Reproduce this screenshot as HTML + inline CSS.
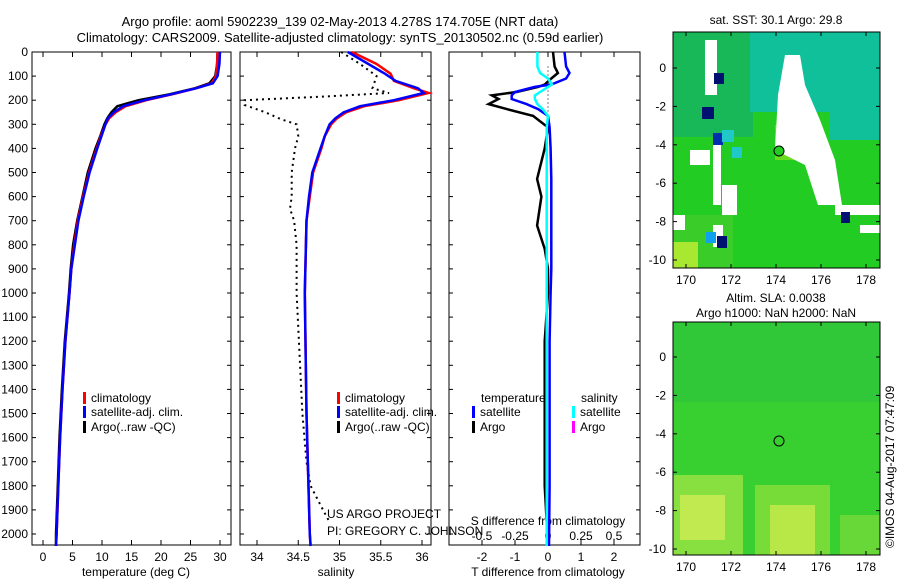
<!DOCTYPE html>
<html><head><meta charset="utf-8"><style>
body{margin:0;background:#fff;}
svg text{font-family:"Liberation Sans",sans-serif;font-size:12px;fill:#000;}
</style></head><body>
<svg id="c" width="900" height="580" xmlns="http://www.w3.org/2000/svg">
<text x="340" y="26" text-anchor="middle" style="font-size:13px">Argo profile: aoml 5902239_139 02-May-2013 4.278S 174.705E (NRT data)</text>
<text x="340" y="42" text-anchor="middle" style="font-size:13px">Climatology: CARS2009. Satellite-adjusted climatology: synTS_20130502.nc (0.59d earlier)</text>

<g>
<rect x="673" y="32" width="207" height="236" fill="#22cc22"/>
<rect x="673" y="32" width="80" height="105" fill="#18b858"/>
<rect x="750" y="32" width="130" height="80" fill="#10c09a"/>
<rect x="830" y="100" width="50" height="40" fill="#10c09a"/>
<rect x="673" y="215" width="60" height="53" fill="#3acc28"/>
<rect x="673" y="242" width="25" height="26" fill="#a8e830"/>
<rect x="775" y="125" width="40" height="35" fill="#68dc20"/>
<polygon points="785,55 800,55 805,85 820,120 835,160 842,205 818,205 805,165 775,150 778,95" fill="#fff"/>
<rect x="705" y="40" width="12" height="55" fill="#fff"/>
<rect x="690" y="150" width="20" height="15" fill="#fff"/>
<rect x="713" y="140" width="8" height="65" fill="#fff"/>
<rect x="722" y="185" width="15" height="30" fill="#fff"/>
<rect x="835" y="205" width="45" height="10" fill="#fff"/>
<rect x="860" y="225" width="20" height="8" fill="#fff"/>
<rect x="673" y="215" width="12" height="15" fill="#fff"/>
<rect x="713" y="225" width="10" height="22" fill="#fff"/>
<rect x="714" y="73" width="10" height="11" fill="#001070"/>
<rect x="702" y="107" width="12" height="12" fill="#001070"/>
<rect x="713" y="133" width="10" height="12" fill="#0030b0"/>
<rect x="722" y="130" width="12" height="12" fill="#20c8c8"/>
<rect x="732" y="147" width="10" height="11" fill="#20c8c8"/>
<rect x="706" y="232" width="10" height="11" fill="#10a0f0"/>
<rect x="717" y="236" width="10" height="12" fill="#001070"/>
<rect x="841" y="212" width="9" height="11" fill="#001070"/>
<circle cx="779" cy="151" r="5" fill="#22cc22" stroke="#000"/>
<rect x="673" y="32" width="207" height="236" fill="none" stroke="#000"/>
</g>
<text x="776" y="24" text-anchor="middle">sat. SST: 30.1  Argo: 29.8</text>

<g>
<rect x="673" y="322" width="207" height="233" fill="#38d030"/>
<rect x="673" y="322" width="207" height="80" fill="#30c838"/>
<rect x="673" y="475" width="70" height="80" fill="#88e040"/>
<rect x="680" y="495" width="45" height="45" fill="#c0ea50"/>
<rect x="755" y="485" width="75" height="70" fill="#78dc38"/>
<rect x="770" y="505" width="45" height="50" fill="#b8e848"/>
<rect x="840" y="515" width="40" height="40" fill="#68d838"/>
<circle cx="779" cy="441" r="5" fill="none" stroke="#000"/>
<rect x="673" y="322" width="207" height="233" fill="none" stroke="#000"/>
</g>
<text x="776" y="302" text-anchor="middle">Altim. SLA: 0.0038</text>
<text x="776" y="317" text-anchor="middle">Argo h1000: NaN h2000: NaN</text>
<text transform="translate(894,548) rotate(-90)">©IMOS 04-Aug-2017 07:47:09</text>

<text x="327" y="518">US ARGO PROJECT</text>
<text x="327" y="535">PI: GREGORY C. JOHNSON</text>
<text x="548" y="525" text-anchor="middle">S difference from climatology</text>
<text x="136" y="576" text-anchor="middle">temperature (deg C)</text>
<text x="336" y="576" text-anchor="middle">salinity</text>
<text x="548" y="576" text-anchor="middle">T difference from climatology</text>
</svg>
<script>
const depthTicks=[0,100,200,300,400,500,600,700,800,900,1000,1100,1200,1300,1400,1500,1600,1700,1800,1900,2000];
const tempTicks=[0,5,10,15,20,25,30];
const salTicks=[34,34.5,35,35.5,36];
const tdTicks=[-2,-1,0,1,2];
const sdTicks=[-0.5,-0.25,0,0.25,0.5];
const tDepth=[0,50,100,130,150,175,200,225,250,275,300,350,400,500,600,700,800,900,1000,1200,1400,1600,1800,2000,2050];
const tClim=[29.6,29.5,29.3,28.6,26,22,17.5,14,12.3,11.2,10.6,9.8,9.1,7.8,6.8,5.9,5.3,4.8,4.5,3.8,3.3,2.9,2.6,2.3,2.2];
const tSat=[30.0,29.9,29.6,28.8,26,21.8,17.2,13.6,12.0,11.0,10.6,9.9,9.2,7.9,6.9,6.0,5.4,4.8,4.5,3.8,3.3,2.9,2.6,2.3,2.2];
const tArgo=[29.6,29.5,29.2,28.2,25.8,21.5,16.2,12.6,11.6,10.9,10.4,9.7,8.9,7.6,6.7,5.8,5.1,4.7,4.4,3.7,3.2,2.8,2.5,2.2,2.2];
const sDepth=[0,50,90,120,150,170,200,225,250,275,300,350,400,500,600,700,1000,1500,2000,2050];
const sClim=[35.15,35.45,35.62,35.66,35.9,36.08,35.72,35.3,35.08,34.97,34.9,34.82,34.78,34.68,34.64,34.6,34.58,34.6,34.64,34.65];
const sSat=[35.1,35.35,35.55,35.68,35.95,36.02,35.66,35.25,35.05,34.95,34.88,34.82,34.77,34.67,34.63,34.6,34.58,34.6,34.64,34.65];
const aDepth=[0,50,100,150,170,185,200,220,250,280,300,350,400,500,600,650,700,800,1000,1500,1700,1800,1900,1950];
const sArgo=[35.02,35.25,35.45,35.4,35.6,34.8,33.85,33.85,34.1,34.3,34.48,34.5,34.46,34.42,34.42,34.4,34.45,34.48,34.48,34.55,34.6,34.65,34.8,34.88];
const dDepth=[0,60,87,110,135,145,166,180,195,216,237,265,313,400,527,600,720,817,900,1000,1200,1500,1800,2050];
const tdArgo=[0.15,0.2,0.3,0.1,-0.1,-0.3,-0.95,-1.7,-1.5,-1.8,-1.25,-0.45,0,-0.1,-0.33,-0.2,-0.33,-0.1,0,0,-0.1,-0.1,-0.1,0];
const tdSat=[0.5,0.55,0.65,0.55,0.1,-0.4,-1.0,-1.1,-1.1,-0.65,-0.3,0,0.05,0.08,0.1,0.1,0.1,0.1,0.1,0.08,0.05,0.05,0.05,0.03];
const sdSat=[-0.08,-0.08,-0.06,0.0,0.03,0.0,-0.06,-0.1,-0.1,-0.08,-0.04,0,-0.01,-0.01,-0.01,-0.01,-0.01,-0.01,-0.01,-0.01,-0.01,-0.01,-0.01,-0.01];

const svg=document.getElementById('c');
const NS='http://www.w3.org/2000/svg';
const Y0=52,BOT=545;
const yD=d=>Y0+d*0.241;
const xT=t=>43+t*5.9;
const xS=s=>257+(s-34)*82.5;
const xTD=v=>548+v*33;
const xSD=v=>548+v*132;
function mk(tag,attrs){const e=document.createElementNS(NS,tag);for(const k in attrs)e.setAttribute(k,attrs[k]);svg.appendChild(e);return e;}
function txt(x,y,s,anchor){const e=mk('text',{x:x,y:y,'text-anchor':anchor||'middle'});e.textContent=s;return e;}
function line(xs,ds,fx,color,w,dash){
  const p=xs.map((v,i)=>fx(v).toFixed(1)+','+yD(ds[i]).toFixed(1)).join(' ');
  const a={points:p,fill:'none',stroke:color,'stroke-width':w};
  if(dash)a['stroke-dasharray']=dash;
  return mk('polyline',a);
}
const panels=[[32,231,'temperature-panel'],[240,431,'salinity-panel'],[449,640,'difference-panel']];
panels.forEach(p=>{
  const r=mk('rect',{x:p[0],y:Y0,width:p[1]-p[0],height:BOT-Y0,fill:'none',stroke:'#000'});
  
  
  depthTicks.forEach(d=>{
    mk('line',{x1:p[0],x2:p[0]+4,y1:yD(d),y2:yD(d),stroke:'#000'});
    mk('line',{x1:p[1]-4,x2:p[1],y1:yD(d),y2:yD(d),stroke:'#000'});
  });
});
depthTicks.forEach(d=>{const t=txt(28,yD(d)+4,String(d),'end');
  
  });
function xticks(ticks,fx){ticks.forEach(v=>{const x=fx(v);
  mk('line',{x1:x,x2:x,y1:Y0,y2:Y0+5,stroke:'#000'});
  mk('line',{x1:x,x2:x,y1:BOT-5,y2:BOT,stroke:'#000'});
  const t=txt(x,561,String(v));
  
  });}
xticks(tempTicks,xT);xticks(salTicks,xS);xticks(tdTicks,xTD);
sdTicks.forEach(v=>{const t=txt(xSD(v),540,String(v));
  
  });

let e;
e=line(tArgo,tDepth,xT,'#000',2.5);
e=line(tClim,tDepth,xT,'#f00',2.5);
e=line(tSat,tDepth,xT,'#00f',2.5);
e=line(sArgo,aDepth,xS,'#000',2,'2,4');
e=line(sClim,sDepth,xS,'#f00',2.5);
e=line(sSat,sDepth,xS,'#00f',2.5);
e=mk('line',{x1:xTD(0),x2:xTD(0),y1:yD(60),y2:yD(260),stroke:'#000','stroke-dasharray':'1,3'});

e=line(tdArgo,dDepth,xTD,'#000',2.5);
e=line(tdSat,dDepth,xTD,'#00f',2.5);
e=line(sdSat,dDepth,xSD,'#0ff',2.5);

function legend(x,y,color,label){
  const b=mk('rect',{x:x,y:y-10,width:3,height:12,fill:color});
  
  
  const t=txt(x+8,y,label,'start');
  
  
}
legend(83,402,'#f00','climatology');legend(83,416,'#00f','satellite-adj. clim.');legend(83,431,'#000','Argo(..raw -QC)');
legend(337,402,'#f00','climatology');legend(337,416,'#00f','satellite-adj. clim.');legend(337,431,'#000','Argo(..raw -QC)');
e=txt(481,402,'temperature','start');
e=txt(581,402,'salinity','start');
legend(472,416,'#00f','satellite');legend(472,431,'#000','Argo');
legend(572,416,'#0ff','satellite');legend(572,431,'#f0f','Argo');

const lonTicks=[170,172,174,176,178];
const latTicks=[0,-2,-4,-6,-8,-10];
const xLon=l=>686+(l-170)*22.5;
[[32,268,68,260],[322,555,357,549]].forEach(m=>{
  const yL=la=>m[2]+(-la)*(m[3]-m[2])/10;
  lonTicks.forEach(l=>{const x=xLon(l);
    mk('line',{x1:x,x2:x,y1:m[1]-4,y2:m[1],stroke:'#000'});
    mk('line',{x1:x,x2:x,y1:m[0],y2:m[0]+4,stroke:'#000'});
    const t=txt(x,m[1]+16,String(l));
    
    });
  latTicks.forEach(la=>{const y=yL(la);
    mk('line',{x1:673,x2:677,y1:y,y2:y,stroke:'#000'});
    mk('line',{x1:876,x2:880,y1:y,y2:y,stroke:'#000'});
    const t=txt(666,y+4,String(la),'end');
    
    });
});
</script>
</body></html>
